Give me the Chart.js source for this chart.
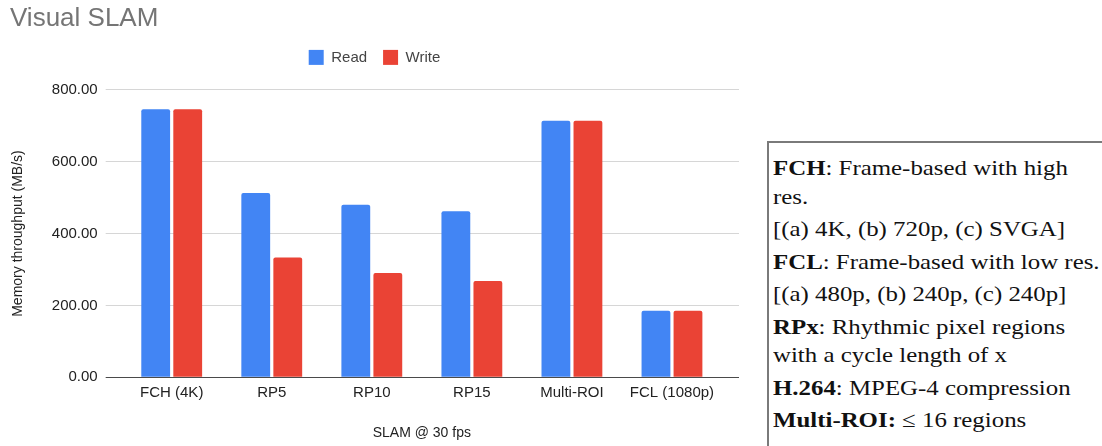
<!DOCTYPE html>
<html>
<head>
<meta charset="utf-8">
<script src="https://cdn.jsdelivr.net/npm/chart.js@4"></script>
<style>
  html, body { margin: 0; padding: 0; background: #fff; }
  body { width: 1102px; height: 446px; position: relative; overflow: hidden; }
  #chartWrap { position: absolute; left: 0; top: 0; width: 745px; height: 446px; }
  #noteBox {
    position: absolute; left: 767px; top: 141px; width: 420px; height: 400px;
    border: 2px solid #7a7a7a; box-sizing: border-box;
    padding: 11px 0 0 4px;
  }
  #noteText {
    font-family: 'Liberation Serif', 'Times New Roman', serif;
    font-size: 22px; color: #111; white-space: nowrap;
    transform: scaleX(1.13); transform-origin: left top;
  }
  #noteText .item { line-height: 28.5px; margin-bottom: 4px; }
</style>
</head>
<body>
<div id="chartWrap"><canvas id="chartSlam"></canvas></div>
<div id="noteBox">
  <div id="noteText">
    <div class="item"><b>FCH</b>: Frame-based with high<br>res.</div>
    <div class="item">[(a) 4K, (b) 720p, (c) SVGA]</div>
    <div class="item"><b>FCL</b>: Frame-based with low res.</div>
    <div class="item">[(a) 480p, (b) 240p, (c) 240p]</div>
    <div class="item"><b>RPx</b>: Rhythmic pixel regions<br>with a cycle length of x</div>
    <div class="item"><b>H.264</b>: MPEG-4 compression</div>
    <div class="item"><b>Multi-ROI:</b> ≤ 16 regions</div>
  </div>
</div>
<script>
// ── Data ──
const categories = ['FCH (4K)', 'RP5', 'RP10', 'RP15', 'Multi-ROI', 'FCL (1080p)'];
const readMBs    = [746, 513, 480, 462, 714, 185];
const writeMBs   = [746, 333, 290, 268, 714, 185];
const yTicks     = [0, 200, 400, 600, 800];

const gridColor = ctx => (ctx.tick && ctx.tick.value === 0) ? '#4a4a4a' : '#d6d6d6';
const sans      = 'Arial, "Liberation Sans", sans-serif';
const tickFont  = { family: sans, size: 15 };

// extra room under the legend (gap before plot top)
const legendGap = {
  id: 'legendGap',
  beforeInit(chart) {
    const fit = chart.legend.fit;
    chart.legend.fit = function() {
      fit.call(this);
      this.height += 15;
    };
  }
};

new Chart(document.getElementById('chartSlam'), {
  type: 'bar',
  data: {
    labels: categories,
    datasets: [
      { label: 'Read',  data: readMBs,  backgroundColor: '#4285f4' },
      { label: 'Write', data: writeMBs, backgroundColor: '#ea4335' }
    ]
  },
  plugins: [legendGap],
  options: {
    responsive: true,
    maintainAspectRatio: false,
    animation: false,
    categoryPercentage: 0.64,
    barPercentage: 0.9,
    borderRadius: { topLeft: 2, topRight: 2 },
    layout: { padding: { left: 10, right: 6, top: 4, bottom: 4 } },
    plugins: {
      title: {
        display: true, text: 'Visual SLAM', align: 'start',
        color: '#757575',
        font: { family: sans, size: 26, weight: 'normal', lineHeight: 1.15 },
        padding: { top: 0, bottom: 0 }
      },
      legend: {
        position: 'top',
        labels: {
          boxWidth: 15, boxHeight: 15, padding: 16,
          color: '#444',
          font: { family: sans, size: 15 }
        }
      },
      tooltip: { enabled: false }
    },
    scales: {
      x: {
        grid: { display: false, tickLength: 0 },
        border: { display: false },
        ticks: { color: '#222', font: tickFont, padding: 7, maxRotation: 0, autoSkip: false },
        title: {
          display: true, text: 'SLAM @ 30 fps', color: '#222',
          font: { family: sans, size: 14 },
          padding: { top: 16, bottom: 0 }
        }
      },
      y: {
        min: 0, max: 800,
        afterBuildTicks: axis => { axis.ticks = yTicks.map(v => ({ value: v })); },
        grid: { color: gridColor, tickLength: 16, lineWidth: 1 },
        border: { display: false },
        ticks: { color: '#222', font: tickFont, padding: 8, callback: v => Number(v).toFixed(2) },
        title: {
          display: true, text: 'Memory throughput (MB/s)', color: '#222',
          font: { family: sans, size: 14 },
          padding: { top: 0, bottom: 17 }
        }
      },
      yRight: {
        position: 'right',
        min: 0, max: 800,
        afterBuildTicks: axis => { axis.ticks = yTicks.map(v => ({ value: v })); },
        grid: { color: gridColor, tickLength: 17, drawOnChartArea: false },
        border: { display: false },
        ticks: { display: false }
      }
    }
  }
});
</script>
</body>
</html>
